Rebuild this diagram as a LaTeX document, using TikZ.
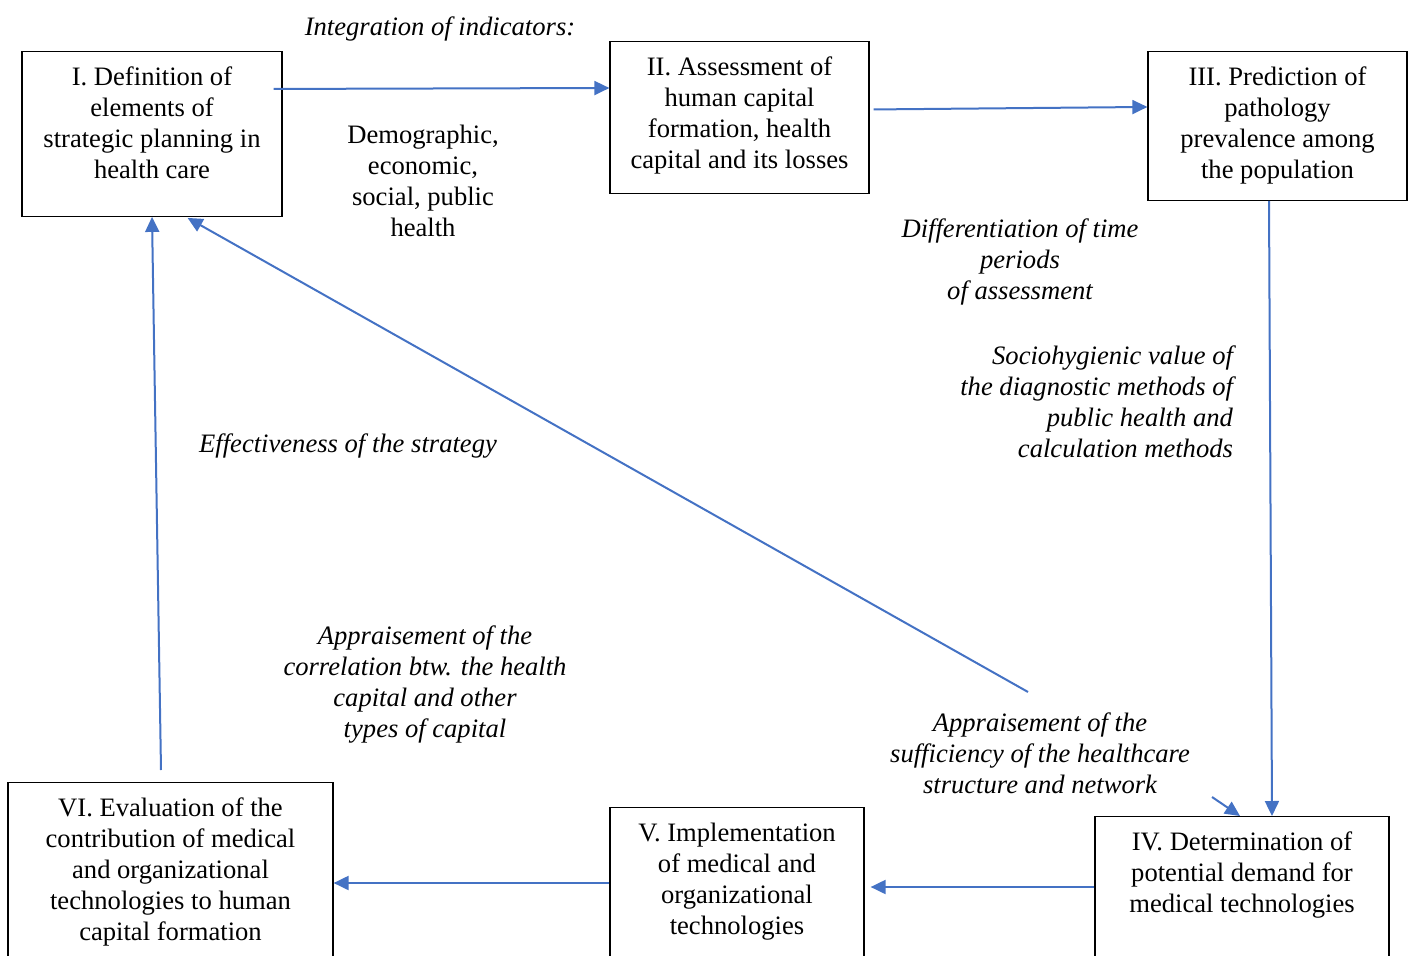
\documentclass[tikz,border=0pt]{standalone}
\usepackage{fontspec}
\setmainfont{Liberation Serif}
\usetikzlibrary{arrows.meta}
\definecolor{blu}{RGB}{68,114,196}
\begin{document}
\begin{tikzpicture}[x=0.5pt,y=-0.5pt,>={Triangle[length=7.5pt,width=7pt]},
    testo/.style={font=\fontsize{13.3}{15.5}\selectfont},
    blocco/.style={testo,draw,line width=0.6pt,align=center,anchor=north,inner xsep=2pt,inner ysep=7.5pt},
    nota/.style={testo,align=center,font=\fontsize{13.3}{15.5}\selectfont\itshape},
    freccia/.style={->,draw=blu,line width=1pt}]
        \useasboundingbox (0,0) rectangle (1411,956);
        \clip (0,0) rectangle (1411,956);
        % blocchi in alto
        \node[blocco,minimum width=130pt,text depth=11.5pt] (def) at (152,51)
            {I. Definition of\\elements of\\strategic planning in\\health care};
        \node[blocco,minimum width=129.5pt,text depth=5pt] (ass) at (739.5,41)
            {II. Assessment of\\human capital\\formation, health\\capital and its losses};
        \node[blocco,minimum width=129.5pt,text depth=3.5pt] (pre) at (1277.5,51)
            {III. Prediction of\\pathology\\prevalence among\\the population};
        % blocchi in basso (tagliati dal bordo)
        \node[blocco,minimum width=147pt,text depth=40pt] (dem) at (1242,816)
            {IV. Determination of\\potential demand for\\medical technologies};
        \node[blocco,minimum width=127pt,text depth=40pt] (imp) at (737,807)
            {V. Implementation\\of medical and\\organizational\\technologies};
        \node[blocco,minimum width=162.5pt,text depth=40pt] (val) at (170.5,782)
            {VI. Evaluation of the\\contribution of medical\\and organizational\\technologies to human\\capital formation};
        % note
        \node[nota] (integ) at (440,29) {Integration of indicators:};
        \node[testo,align=center] (indic) at (423,181) {Demographic,\\economic,\\social, public\\health};
        \node[nota] (diff) at (1020,262) {Differentiation of time\\periods\\of assessment};
        \node[nota,align=right,anchor=east] (socio) at (1240,402)
            {Sociohygienic value of\\the diagnostic methods of\\public health and\\calculation methods};
        \node[nota] (eff) at (348,446) {Effectiveness of the strategy};
        \node[nota] (corr) at (425,685) {Appraisement of the\\correlation btw. the health\\capital and other\\types of capital};
        \node[nota] (suff) at (1040,753) {Appraisement of the\\sufficiency of the healthcare\\structure and network};
        % frecce
        \coordinate (d1) at (1028,692);
        \coordinate (d2) at (1212,797);
        \draw[freccia] ([shift={(-9,-45)}]def.east) -- (ass.west |- 0,88);
        \draw[freccia] ([shift={(4,-8)}]ass.east) -- ([shift={(0,-19)}]pre.west);
        \draw[freccia] ([shift={(-8.5,0)}]pre.south) -- ([shift={(30,0)}]dem.north);
        \draw[freccia] ([shift={(0,71)}]dem.north west) -- ([shift={(6,80)}]imp.north east);
        \draw[freccia] ([shift={(0,76)}]imp.north west) -- ([shift={(0,101)}]val.north east);
        \draw[freccia] ([shift={(-9.5,-12)}]val.north) -- (def.south);
        \draw[freccia] (d1) -- ([shift={(-95,1)}]def.south east);
        \draw[freccia] (d2) -- ([shift={(-2,0)}]dem.north);
    \end{tikzpicture}
\end{document}
